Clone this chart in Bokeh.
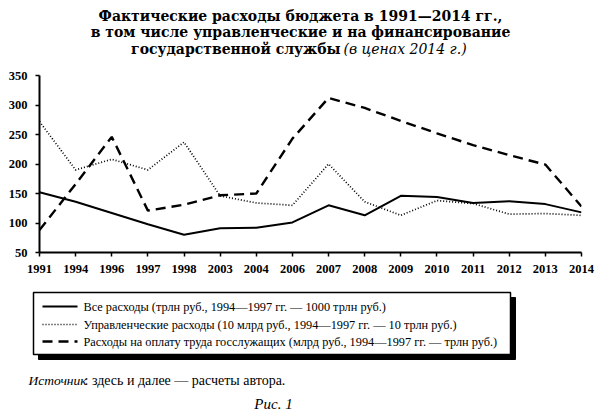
from bokeh.plotting import figure
from bokeh.models import Label, FixedTicker, Range1d
from bokeh.embed import file_html
from bokeh.resources import INLINE

# data (в ценах 2014 г.)
years = ["1991", "1994", "1996", "1997", "1998", "2003", "2004", "2006",
         "2007", "2008", "2009", "2010", "2011", "2012", "2013", "2014"]
total = [152, 136, 117, 98, 80, 91, 92, 101, 130, 113, 146, 144, 134, 137, 132, 118]
admin = [272, 190, 208, 190, 237, 146, 134, 130, 200, 136, 113, 138, 133, 115, 116, 113]
salary = [88, 166, 246, 121, 131, 147, 150, 243, 312, 295, 273, 252, 232, 215, 199, 128]

y_ticks = [50, 100, 150, 200, 250, 300, 350]

labels = [
    "Все расходы (трлн руб., 1994—1997 гг. — 1000 трлн руб.)",
    "Управленческие расходы (10 млрд руб., 1994—1997 гг. — 10 трлн руб.)",
    "Расходы на оплату труда госслужащих (млрд руб., 1994—1997 гг. — трлн руб.)",
]

W = 595
TOP_H, MAIN_H, BOT_H = 70, 210, 139

styles = [dict(line_width=2),
          dict(line_width=1.7, line_dash="1 2"),
          dict(line_width=2.4, line_dash="10 6")]


def blank(h, y0):
    # a figure with no axes whose data units are the page pixels
    f = figure(width=W, height=h, x_range=Range1d(0, W), y_range=Range1d(y0 + h, y0),
               output_backend="svg", toolbar_location=None,
               x_axis_location=None, y_axis_location=None, min_border=0)
    f.outline_line_color = None
    f.grid.visible = False
    return f


def txt(f, x, y, s, size="14px", style="normal", font="DejaVu Serif", align="center"):
    f.add_layout(Label(x=x, y=y, text=s, text_font=font, text_font_size=size,
                       text_font_style=style, text_align=align, text_baseline="middle",
                       text_color="black"))


# ---- title
top = blank(TOP_H, 0)
txt(top, 300, 15, "Фактические расходы бюджета в 1991—2014 гг.,", style="bold")
txt(top, 300, 31, "в том числе управленческие и на финансирование", style="bold")
txt(top, 340, 48, "государственной службы", style="bold", align="right")
txt(top, 343, 48, "(в ценах 2014 г.)", style="italic", align="left")

# ---- chart
xs = list(range(len(years)))
p = figure(width=W, height=MAIN_H, x_range=Range1d(0, len(years) - 1), y_range=Range1d(50, 350),
           output_backend="svg", toolbar_location=None,
           min_border_left=39, min_border_right=14, min_border_top=5, min_border_bottom=28)
p.outline_line_color = None
p.grid.visible = False

for vals, st in zip((total, admin, salary), styles):
    p.line(xs, vals, line_color="black", **st)

p.xaxis.ticker = FixedTicker(ticks=xs)
p.xaxis.major_label_overrides = {i: y for i, y in enumerate(years)}
p.yaxis.ticker = FixedTicker(ticks=y_ticks)
for ax in (p.xaxis[0], p.yaxis[0]):
    ax.axis_line_width = 2
    ax.major_tick_line_width = 1.5
    ax.major_tick_out = 4
    ax.major_tick_in = 0
    ax.minor_tick_line_color = None
    ax.major_label_text_font = "Liberation Serif"
    ax.major_label_text_font_style = "bold"
    ax.major_label_text_font_size = "12.5px"
    ax.major_label_text_color = "black"
p.xaxis.major_label_standoff = 8
p.yaxis.major_label_standoff = 8

# ---- legend box (with drop shadow), source note, caption
bot = blank(BOT_H, TOP_H + MAIN_H)
bot.quad(left=38, right=515, top=297, bottom=359, fill_color="black", line_color="black")
bot.quad(left=33, right=510, top=292, bottom=354, fill_color="white",
         line_color="black", line_width=1.5)
rows = [306, 324, 341]
for yy, st, lab in zip(rows, styles, labels):
    bot.segment(x0=42, x1=77, y0=yy, y1=yy, line_color="black", **st)
    txt(bot, 83, yy, lab, size="12.3px", font="Liberation Serif", align="left")

txt(bot, 28, 380, "Источник", size="13.5px", style="italic", font="Liberation Serif", align="left")
txt(bot, 84, 380, ": здесь и далее — расчеты автора.", size="14px",
    font="Liberation Serif", align="left")
txt(bot, 273, 403, "Рис. 1", size="15px", style="italic", font="Liberation Serif")

open("out.html", "w").write(file_html([top, p, bot], INLINE))
